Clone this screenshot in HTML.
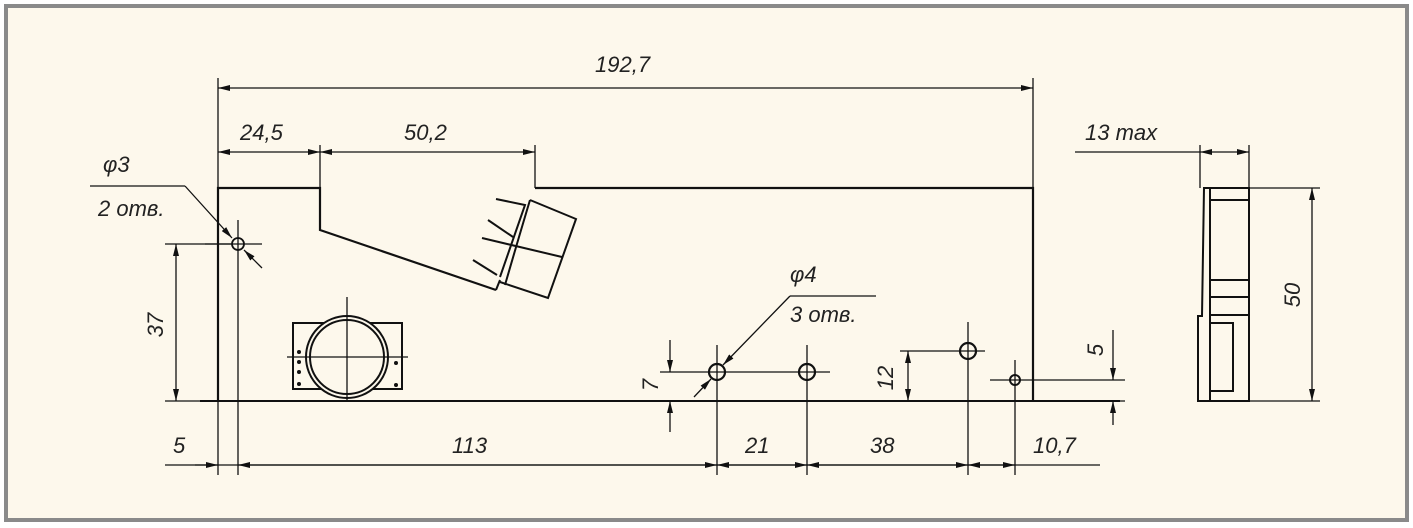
<!DOCTYPE html>
<html><head><meta charset="utf-8"><style>
html,body{margin:0;padding:0;background:#fff}
svg{display:block}
text{font-family:"Liberation Sans",sans-serif;font-style:italic;font-size:22px;fill:#222}
</style></head><body>
<svg width="1413" height="528" viewBox="0 0 1413 528" xmlns="http://www.w3.org/2000/svg">
<defs>
<marker id="a" viewBox="0 0 12 6" refX="12" refY="3" markerWidth="12" markerHeight="6" orient="auto-start-reverse" markerUnits="userSpaceOnUse"><path d="M0,0 L12,3 L0,6z" fill="#111"/></marker>
</defs>
<rect x="0" y="0" width="1413" height="528" fill="#ffffff"/>
<rect x="6" y="6" width="1401" height="514" fill="#fdf8ec" stroke="#8a8a8a" stroke-width="4"/>
<g stroke="#111" fill="none">
<path d="M218,401 L218,188 L320,188 L320,230 L496,290" stroke-width="2.2"/>
<path d="M535,188 L1033,188 L1033,401" stroke-width="2.2"/>
<line x1="200" y1="401" x2="1120" y2="401" stroke-width="2"/>
<g stroke-width="2">
<path d="M530,200 L576,219 L548,298 L500,282"/>
<path d="M496,199 L525,205 L500,277"/>
<path d="M530,200 Q518,240 505,285"/>
<line x1="482" y1="238" x2="562" y2="257"/>
<line x1="488" y1="220" x2="513" y2="237"/>
<line x1="473" y1="260" x2="497" y2="275"/>
<line x1="496" y1="290" x2="500" y2="280"/>
</g>
<g stroke-width="1.3">
<line x1="218" y1="78" x2="218" y2="475"/>
<line x1="1033" y1="78" x2="1033" y2="188"/>
<line x1="320" y1="145" x2="320" y2="188"/>
<line x1="535" y1="145" x2="535" y2="188"/>
<line x1="218" y1="88" x2="1033" y2="88" marker-start="url(#a)" marker-end="url(#a)"/>
<line x1="218" y1="152" x2="320" y2="152" marker-start="url(#a)" marker-end="url(#a)"/>
<line x1="320" y1="152" x2="535" y2="152" marker-start="url(#a)" marker-end="url(#a)"/>
<line x1="90" y1="186" x2="185" y2="186"/>
<line x1="185" y1="186" x2="232" y2="238" marker-end="url(#a)"/>
<line x1="262" y1="268" x2="244" y2="250" marker-end="url(#a)"/>
<line x1="205" y1="244" x2="262" y2="244"/>
<line x1="238" y1="220" x2="238" y2="475"/>
<circle cx="238" cy="244" r="6" stroke-width="1.8"/>
<line x1="165" y1="244" x2="232" y2="244"/>
<line x1="165" y1="401" x2="218" y2="401"/>
<line x1="176" y1="244" x2="176" y2="401" marker-start="url(#a)" marker-end="url(#a)"/>
<line x1="165" y1="465" x2="1100" y2="465"/>
<line x1="195" y1="465" x2="218" y2="465" marker-end="url(#a)"/>
<line x1="238" y1="465" x2="717" y2="465" marker-start="url(#a)" marker-end="url(#a)"/>
<line x1="717" y1="465" x2="807" y2="465" marker-start="url(#a)" marker-end="url(#a)"/>
<line x1="807" y1="465" x2="968" y2="465" marker-start="url(#a)" marker-end="url(#a)"/>
<line x1="968" y1="465" x2="1015" y2="465" marker-start="url(#a)" marker-end="url(#a)"/>
<line x1="717" y1="345" x2="717" y2="475"/>
<line x1="807" y1="345" x2="807" y2="475"/>
<line x1="968" y1="322" x2="968" y2="475"/>
<line x1="1015" y1="360" x2="1015" y2="475"/>
<line x1="660" y1="372" x2="830" y2="372"/>
<line x1="900" y1="351" x2="985" y2="351"/>
<line x1="990" y1="380" x2="1125" y2="380"/>
<line x1="1040" y1="401" x2="1125" y2="401"/>
<circle cx="717" cy="372" r="8" stroke-width="2.2"/>
<circle cx="807" cy="372" r="8" stroke-width="2.2"/>
<circle cx="968" cy="351" r="8" stroke-width="2.2"/>
<circle cx="1015" cy="380" r="5" stroke-width="2"/>
<line x1="790" y1="296" x2="876" y2="296"/>
<line x1="790" y1="296" x2="723" y2="365" marker-end="url(#a)"/>
<line x1="694" y1="397" x2="711" y2="379" marker-end="url(#a)"/>
<line x1="670" y1="340" x2="670" y2="372" marker-end="url(#a)"/>
<line x1="670" y1="401" x2="670" y2="432" marker-start="url(#a)"/>
<line x1="908" y1="351" x2="908" y2="401" marker-start="url(#a)" marker-end="url(#a)"/>
<line x1="1113" y1="330" x2="1113" y2="380" marker-end="url(#a)"/>
<line x1="1113" y1="401" x2="1113" y2="425" marker-start="url(#a)"/>
</g>
</g>
<g stroke="#111" fill="none" stroke-width="2">
<rect x="293" y="323" width="109" height="66"/>
<circle cx="347" cy="357" r="41" fill="#fdf8ec"/>
<circle cx="347" cy="357" r="37"/>
<line x1="347" y1="297" x2="347" y2="401" stroke-width="1.3"/>
<line x1="287" y1="357" x2="408" y2="357" stroke-width="1.3"/>
</g>
<g fill="#111"><circle cx="299" cy="352" r="2"/><circle cx="299" cy="362" r="2"/><circle cx="299" cy="372" r="2"/><circle cx="299" cy="384" r="2"/><circle cx="396" cy="363" r="2"/><circle cx="396" cy="385" r="2"/></g>
<g stroke="#111" fill="none">
<g stroke-width="1.3">
<line x1="1200" y1="145" x2="1200" y2="188"/>
<line x1="1249" y1="145" x2="1249" y2="188"/>
<line x1="1075" y1="152" x2="1200" y2="152"/>
<line x1="1200" y1="152" x2="1249" y2="152" marker-start="url(#a)" marker-end="url(#a)"/>
<line x1="1249" y1="188" x2="1320" y2="188"/>
<line x1="1249" y1="401" x2="1320" y2="401"/>
<line x1="1312" y1="188" x2="1312" y2="401" marker-start="url(#a)" marker-end="url(#a)"/>
</g>
<g stroke-width="2">
<path d="M1204,188 L1249,188 L1249,401 L1198,401 L1198,316 L1202,316 Z"/>
<line x1="1210" y1="188" x2="1210" y2="401"/>
<line x1="1210" y1="200" x2="1249" y2="200"/>
<line x1="1210" y1="280" x2="1249" y2="280"/>
<line x1="1210" y1="297" x2="1249" y2="297"/>
<line x1="1210" y1="315" x2="1249" y2="315"/>
<rect x="1210" y="323" width="23" height="68"/>
</g>
</g>
<text x="595" y="72">192,7</text>
<text x="240" y="140">24,5</text>
<text x="404" y="140">50,2</text>
<text x="103" y="172">φ3</text>
<text x="98" y="216">2 отв.</text>
<text x="790" y="282">φ4</text>
<text x="790" y="322">3 отв.</text>
<text x="1085" y="140">13 max</text>
<text x="173" y="453">5</text>
<text x="452" y="453">113</text>
<text x="745" y="453">21</text>
<text x="870" y="453">38</text>
<text x="1033" y="453">10,7</text>
<text transform="translate(163,325) rotate(-90)" text-anchor="middle">37</text>
<text transform="translate(658,385) rotate(-90)" text-anchor="middle">7</text>
<text transform="translate(893,378) rotate(-90)" text-anchor="middle">12</text>
<text transform="translate(1103,350) rotate(-90)" text-anchor="middle">5</text>
<text transform="translate(1300,295) rotate(-90)" text-anchor="middle">50</text>
</svg>
</body></html>
